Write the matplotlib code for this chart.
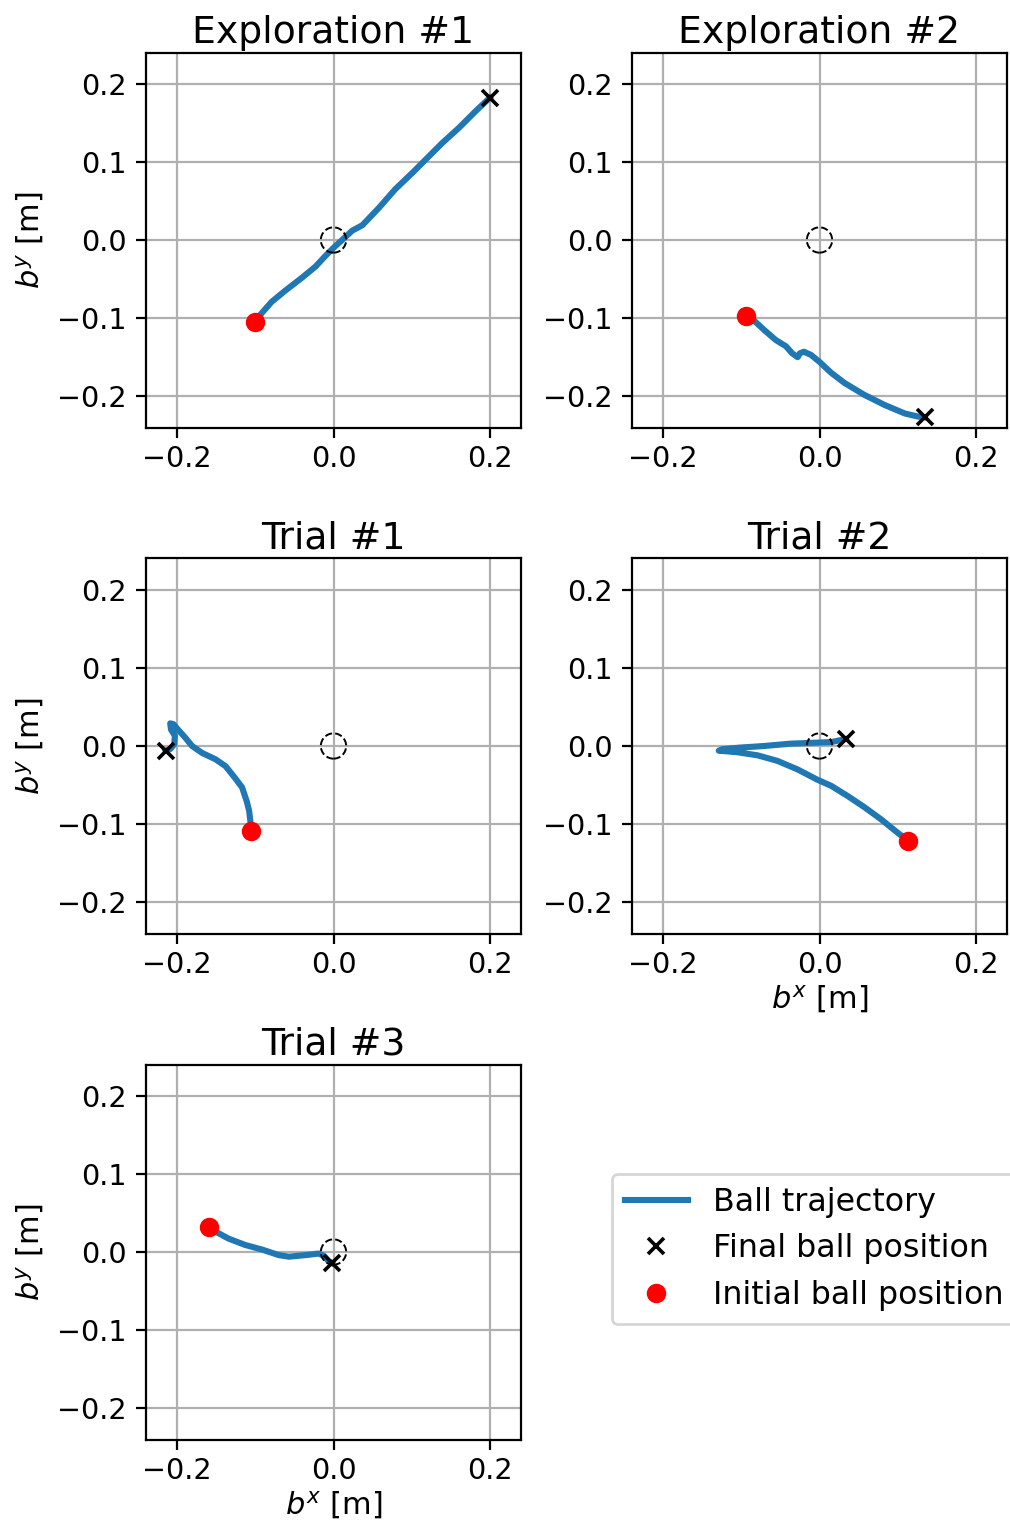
import matplotlib
matplotlib.use("Agg")
import matplotlib.pyplot as plt
from matplotlib.patches import Circle
import numpy as np

titles = ["Exploration #1", "Exploration #2", "Trial #1", "Trial #2", "Trial #3"]

exp1_x = [-0.101, -0.094, -0.079, -0.062, -0.040, -0.023, -0.010, 0.000, 0.011, 0.024, 0.037,
          0.058, 0.079, 0.101, 0.122, 0.139, 0.161, 0.182, 0.200]
exp1_y = [-0.105, -0.096, -0.079, -0.065, -0.048, -0.034, -0.020, -0.010, 0.000, 0.012, 0.019,
          0.041, 0.065, 0.086, 0.107, 0.124, 0.144, 0.165, 0.182]

exp2_x = [-0.094, -0.084, -0.071, -0.056, -0.043, -0.035, -0.028, -0.025, -0.020, -0.011, 0.000,
          0.015, 0.032, 0.057, 0.083, 0.109, 0.126, 0.135]
exp2_y = [-0.097, -0.103, -0.115, -0.128, -0.136, -0.145, -0.150, -0.145, -0.143, -0.147, -0.156,
          -0.170, -0.183, -0.198, -0.211, -0.222, -0.226, -0.227]

tr1_x = [-0.106, -0.106, -0.108, -0.111, -0.117, -0.126, -0.138, -0.151, -0.168, -0.181, -0.190,
         -0.199, -0.205, -0.209, -0.208, -0.203, -0.204, -0.209, -0.215]
tr1_y = [-0.109, -0.100, -0.083, -0.071, -0.053, -0.041, -0.026, -0.017, -0.009, 0.000, 0.011,
         0.021, 0.028, 0.029, 0.021, 0.013, 0.002, -0.004, -0.006]

tr2_x = [0.113, 0.100, 0.079, 0.057, 0.036, 0.015, -0.003, -0.028, -0.054, -0.079, -0.105, -0.129,
         -0.124, -0.101, -0.071, -0.037, -0.011, 0.015, 0.034]
tr2_y = [-0.121, -0.111, -0.094, -0.078, -0.064, -0.051, -0.043, -0.030, -0.019, -0.012, -0.008,
         -0.006, -0.004, -0.002, 0.000, 0.003, 0.004, 0.005, 0.009]

tr3_x = [-0.160, -0.149, -0.134, -0.113, -0.091, -0.070, -0.057, -0.036, -0.019, -0.012, -0.007, -0.002]
tr3_y = [0.032, 0.025, 0.017, 0.009, 0.003, -0.004, -0.006, -0.004, -0.002, -0.005, -0.011, -0.014]

trajectories = [(exp1_x, exp1_y), (exp2_x, exp2_y), (tr1_x, tr1_y), (tr2_x, tr2_y), (tr3_x, tr3_y)]

target_radius = 0.0162
xticks = [-0.2, 0.0, 0.2]
yticks = [-0.2, -0.1, 0.0, 0.1, 0.2]

fig = plt.figure(figsize=(5.05, 7.62), dpi=200)

W, H = 1010, 1524
lefts = [146, 632]
tops = [52, 558, 1064]
aw, ah = 375, 376

positions = [(0, 0), (0, 1), (1, 0), (1, 1), (2, 0)]
handles = None
for i, (r, c) in enumerate(positions):
    l = lefts[c] / W
    b = 1 - (tops[r] + ah) / H
    ax = fig.add_axes([l, b, aw / W, ah / H])
    tx, ty = trajectories[i]
    h1, = ax.plot(tx, ty, color="#1f77b4", lw=2.2, label="Ball trajectory", zorder=2)
    h2, = ax.plot(tx[-1], ty[-1], "x", color="black", ms=5.5, mew=1.3, lw=0,
                  label="Final ball position", zorder=3)
    h3, = ax.plot(tx[0], ty[0], "o", color="red", ms=6, lw=0,
                  label="Initial ball position", zorder=3)
    circ = Circle((0, 0), target_radius, fill=False, ls="--", lw=0.7, ec="black", zorder=4)
    ax.add_patch(circ)
    ax.set_xlim(-0.24, 0.24)
    ax.set_ylim(-0.24, 0.24)
    ax.set_aspect("equal")
    ax.set_xticks(xticks)
    ax.set_yticks(yticks)
    ax.tick_params(labelsize=10.3)
    ax.tick_params(axis="x", pad=2.8)
    ax.grid(True, zorder=0)
    ax.set_axisbelow(True)
    ax.set_title(titles[i], fontsize=13.6, pad=3.5)
    if c == 0:
        ax.set_ylabel(r"$b^y$ [m]", fontsize=11)
    if (r, c) in [(1, 1), (2, 0)]:
        ax.set_xlabel(r"$b^x$ [m]", fontsize=11, labelpad=1.5)
    handles = [h1, h2, h3]

fig.legend(handles=handles, loc="upper left", bbox_to_anchor=(612 / W, 1 - 1174 / H),
           fontsize=11.4, borderaxespad=0)

fig.savefig("out.png", dpi=200)
